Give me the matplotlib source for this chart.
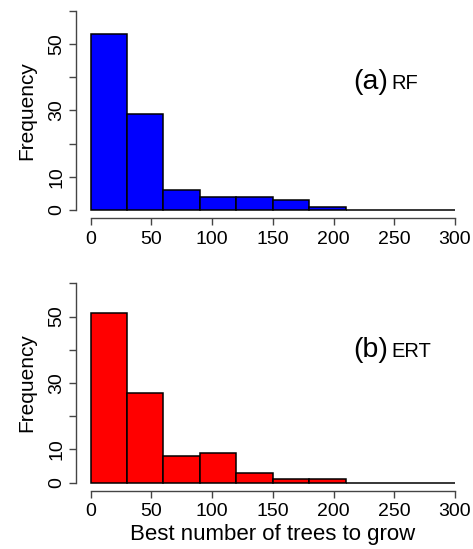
import matplotlib.pyplot as plt

plt.rcParams['font.family'] = ['Liberation Sans', 'DejaVu Sans']

# Histogram counts, bins of width 30 from 0 to 300
bin_edges = [0, 30, 60, 90, 120, 150, 180, 210, 240, 270, 300]
rf_counts = [53, 29, 6, 4, 4, 3, 1, 0, 0, 0]
ert_counts = [51, 27, 8, 9, 3, 1, 1, 0, 0, 0]

x_ticks = [0, 50, 100, 150, 200, 250, 300]
y_ticks = [0, 10, 20, 30, 40, 50, 60]
y_labels = ['0', '10', '', '30', '', '50', '']

W, H = 473, 549
fig = plt.figure(figsize=(W / 100, H / 100), dpi=100)

left = 76 / W
width = (469.6 - 76) / W
ax_top = fig.add_axes([left, (H - 218) / H, width, 215 / H])
ax_bot = fig.add_axes([left, (H - 490.7) / H, width, 215.4 / H])


def draw_hist(ax, counts, color, tag, name, tag_y):
    ax.bar(bin_edges[:-1], counts, width=30, align='edge',
           color=color, edgecolor='black', linewidth=1.1)
    ax.set_xlim(-12, 312)
    ax.set_ylim(-2.4, 62.4)
    for s in ('top', 'right'):
        ax.spines[s].set_visible(False)
    ax.spines['left'].set_bounds(0, 60)
    ax.spines['bottom'].set_bounds(0, 300)
    for s in ('left', 'bottom'):
        ax.spines[s].set_color('#444444')
        ax.spines[s].set_linewidth(1.0)
    ax.set_xticks(x_ticks)
    ax.set_yticks(y_ticks)
    ax.set_yticklabels(y_labels, rotation=90, va='center')
    ax.tick_params(axis='both', direction='out', length=5, width=1.0,
                   color='#444444', labelsize=14)
    ax.tick_params(axis='x', pad=4)
    ax.tick_params(axis='y', pad=2.5)
    ax.set_ylabel('Frequency', fontsize=15, labelpad=9)
    ax.text(216, tag_y, tag, fontsize=20.5, ha='left', va='baseline')
    ax.text(248, tag_y, name, fontsize=14.5, ha='left', va='baseline')


draw_hist(ax_top, rf_counts, '#0000ff', '(a)', 'RF', 36.5)
draw_hist(ax_bot, ert_counts, '#ff0000', '(b)', 'ERT', 37.8)
ax_bot.set_xlabel('Best number of trees to grow', fontsize=16, labelpad=3)

fig.savefig('out.png', dpi=100)
